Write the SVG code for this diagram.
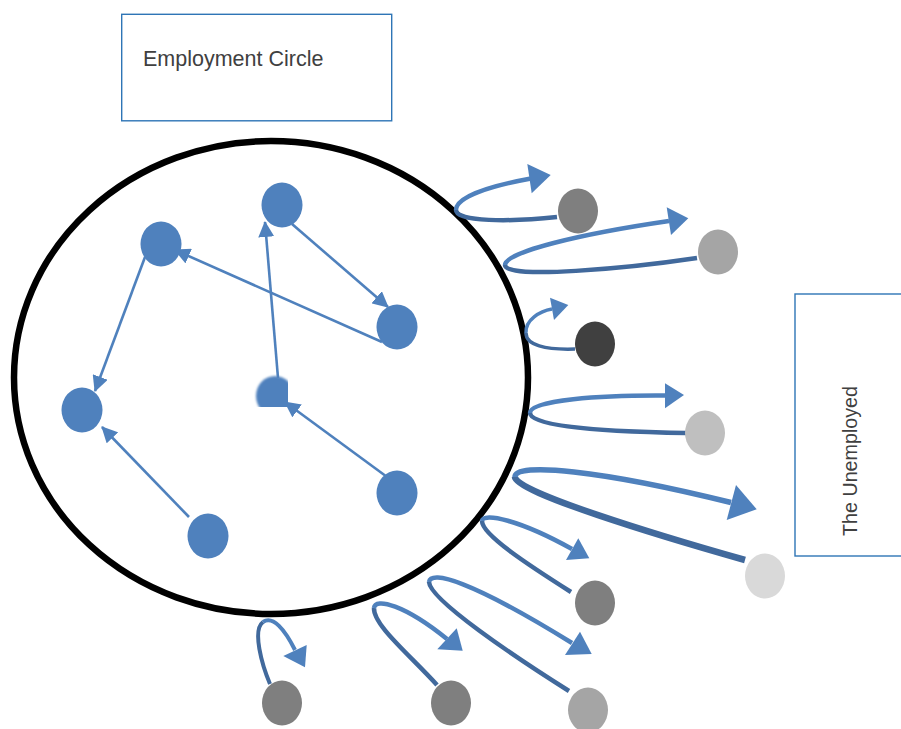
<svg xmlns="http://www.w3.org/2000/svg" width="901" height="729" viewBox="0 0 901 729">
  <defs>
    <style>
      .label-box { fill: #ffffff; stroke: #2E75B6; stroke-width: 1.4; }
      .label { font-family: "Liberation Sans", Arial, sans-serif; fill: #404040; }
      .member { fill: #4F81BD; }
      .outsider { stroke: none; }
      .link { fill: none; stroke: #4F81BD; stroke-width: 2.6; marker-end: url(#tip); }
      .out { fill: none; stroke: #41699C; stroke-linecap: butt; }
      .back { fill: none; stroke: #4F81BD; stroke-linecap: butt; }
      .head { fill: #4F81BD; }
    </style>
    <marker id="tip" viewBox="0 0 16 16" markerWidth="16" markerHeight="16" refX="15" refY="8" orient="auto" markerUnits="userSpaceOnUse">
      <path d="M0,0 L16,8 L0,16 z" fill="#4F81BD"/>
    </marker>
    <clipPath id="cutNode">
      <rect x="240" y="360" width="48" height="47"/>
    </clipPath>
    <filter id="soft" x="-20%" y="-20%" width="140%" height="140%">
      <feGaussianBlur stdDeviation="0.8"/>
    </filter>
  </defs>

  <rect width="901" height="729" fill="#ffffff"/>

  <!-- title boxes -->
  <g id="box-employment">
    <rect class="label-box" x="121.7" y="14.3" width="270" height="106.5"/>
    <text class="label" x="143" y="66" font-size="21.5">Employment Circle</text>
  </g>
  <g id="box-unemployed">
    <rect class="label-box" x="795" y="294" width="120" height="262"/>
    <text class="label" font-size="19.7" text-anchor="middle" transform="translate(857,461) rotate(-90)">The Unemployed</text>
  </g>

  <!-- the circle of employment -->
  <g id="employment-circle">
    <ellipse cx="271" cy="377.5" rx="257" ry="236.5" fill="none" stroke="#000000" stroke-width="6.5"/>
  </g>

  <!-- connectors: moves inside the circle and exits from it -->
  <g id="connectors">
    <line class="link" x1="292" y1="224" x2="388" y2="307"/>
    <line class="link" x1="382" y1="342" x2="175" y2="250"/>
    <line class="link" x1="278" y1="378" x2="265" y2="222"/>
    <line class="link" x1="145" y1="257" x2="95" y2="391"/>
    <line class="link" x1="189" y1="517" x2="102" y2="427"/>
    <line class="link" x1="398" y1="485" x2="285" y2="402"/>

    <!-- exit loop 1 -->
    <path class="out" stroke-width="4.5" d="M557,217 C510,222 456,222 456,210"/>
    <path class="back" stroke-width="4.5" d="M456,210 C456,197 490,186 531,178.5"/>
    <polygon class="head" points="527.3,164 550.7,175 531.7,193.3"/>

    <!-- exit loop 2 -->
    <path class="out" stroke-width="4.5" d="M697,258 C630,268 505,280 505,265"/>
    <path class="back" stroke-width="4.5" d="M505,265 C505,252 580,234 669,221"/>
    <polygon class="head" points="666.7,207.3 688.3,218.3 671,235"/>

    <!-- exit loop 3 -->
    <path class="out" stroke-width="3.5" d="M575,349 C545,350 526,345 526,333"/>
    <path class="back" stroke-width="3.5" d="M526,333 C525,320 540,311 552,309"/>
    <polygon class="head" points="550,297.7 568.3,305 554,320"/>

    <!-- exit loop 4 -->
    <path class="out" stroke-width="4.5" d="M686,433 C620,432 530,428 530,413"/>
    <path class="back" stroke-width="4.5" d="M530,413 C530,400 600,395 666,395.5"/>
    <polygon class="head" points="665,383.3 684,395 665,408.3"/>

    <!-- exit loop 5 -->
    <path class="out" stroke-width="6.5" d="M745,560 C660,536 515,492 515,477"/>
    <path class="back" stroke-width="5.5" d="M515,477 C515,462 600,470 731,502.5"/>
    <polygon class="head" points="736,485 756.7,509.3 726.7,520"/>

    <!-- exit loop 6 -->
    <path class="out" stroke-width="4.5" d="M571,592 C530,566 482,535 482,521"/>
    <path class="back" stroke-width="4.5" d="M482,521 C483,512 520,520 572,549"/>
    <polygon class="head" points="578.3,538.3 589.3,558.3 566,560"/>

    <!-- exit loop 7 -->
    <path class="out" stroke-width="4.5" d="M569,691 C515,657 430,600 429,582"/>
    <path class="back" stroke-width="4.5" d="M429,582 C431,570 470,580 572,643"/>
    <polygon class="head" points="580,631.7 591.7,654 565,655"/>

    <!-- exit loop 8 -->
    <path class="out" stroke-width="4" d="M270,684 C262,665 252,630 263,622"/>
    <path class="back" stroke-width="4" d="M263,622 C273,615 285,630 295,650"/>
    <polygon class="head" points="306.7,645 305,667.3 283.3,656"/>

    <!-- exit loop 9 -->
    <path class="out" stroke-width="4.5" d="M437,685 C410,655 373,625 374,608"/>
    <path class="back" stroke-width="4.5" d="M374,608 C375,597 405,605 447,639"/>
    <polygon class="head" points="456.7,628.3 462.7,650.7 437.3,649.3"/>
  </g>

  <!-- people inside the circle -->
  <g id="member-1"><ellipse class="member" cx="282" cy="205" rx="20.5" ry="22.5"/></g>
  <g id="member-2"><ellipse class="member" cx="161" cy="244" rx="20.5" ry="22.5"/></g>
  <g id="member-3"><ellipse class="member" cx="397" cy="327" rx="20.5" ry="22.5"/></g>
  <g id="member-4"><ellipse class="member" cx="82" cy="410" rx="20.5" ry="22.5"/></g>
  <g id="member-5"><ellipse class="member" cx="275" cy="396" rx="19" ry="20" clip-path="url(#cutNode)" filter="url(#soft)"/></g>
  <g id="member-6"><ellipse class="member" cx="397" cy="493" rx="20.5" ry="22.5"/></g>
  <g id="member-7"><ellipse class="member" cx="208" cy="536" rx="20.5" ry="22.5"/></g>

  <!-- people outside the circle -->
  <g id="outsider-1"><ellipse class="outsider" cx="578" cy="211" rx="20" ry="22.5" fill="#7F7F7F"/></g>
  <g id="outsider-2"><ellipse class="outsider" cx="718" cy="252" rx="20" ry="22.5" fill="#A5A5A5"/></g>
  <g id="outsider-3"><ellipse class="outsider" cx="595" cy="344" rx="20" ry="22.5" fill="#404040"/></g>
  <g id="outsider-4"><ellipse class="outsider" cx="705" cy="433" rx="20" ry="22.5" fill="#BFBFBF"/></g>
  <g id="outsider-5"><ellipse class="outsider" cx="765" cy="576" rx="20" ry="22.5" fill="#D9D9D9"/></g>
  <g id="outsider-6"><ellipse class="outsider" cx="595" cy="603" rx="20" ry="22.5" fill="#7F7F7F"/></g>
  <g id="outsider-7"><ellipse class="outsider" cx="588" cy="710" rx="20" ry="22.5" fill="#A5A5A5"/></g>
  <g id="outsider-8"><ellipse class="outsider" cx="282" cy="703" rx="20" ry="22.5" fill="#7F7F7F"/></g>
  <g id="outsider-9"><ellipse class="outsider" cx="451" cy="703" rx="20" ry="22.5" fill="#7F7F7F"/></g>
</svg>
